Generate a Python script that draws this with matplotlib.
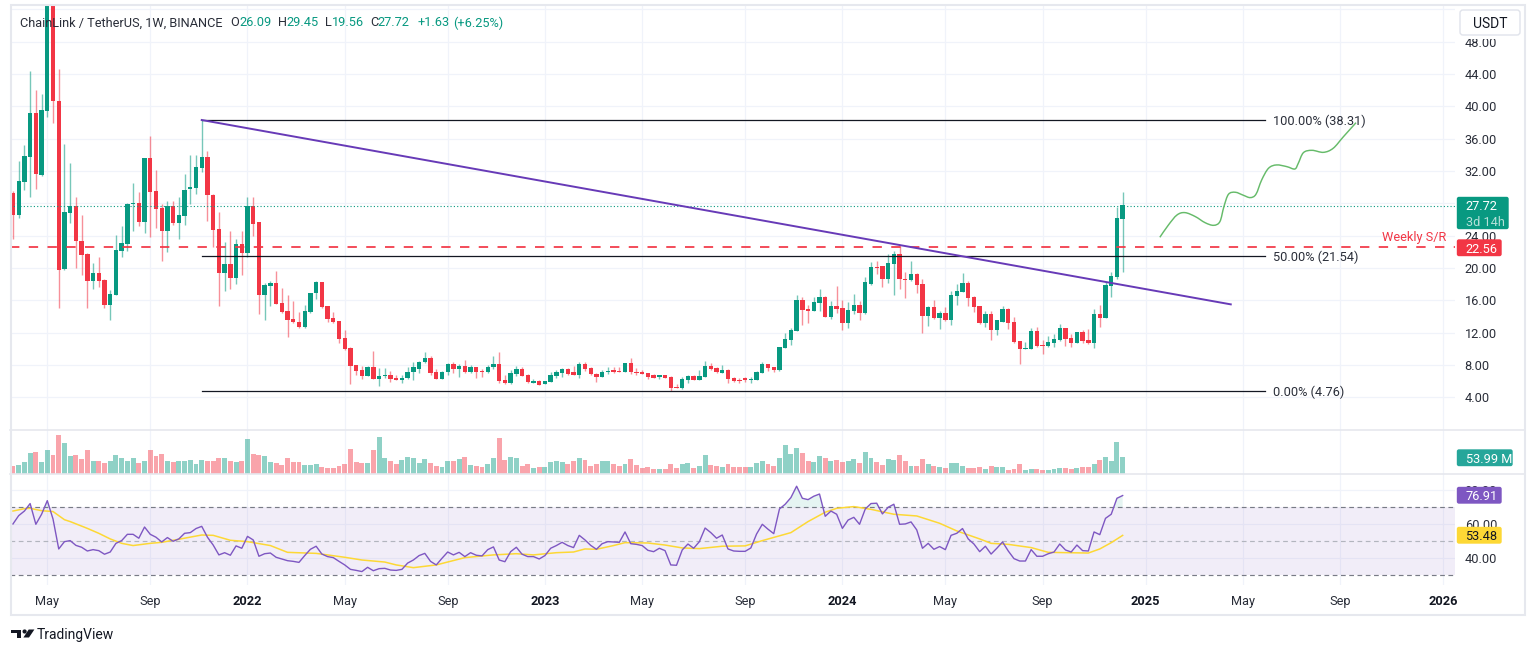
import matplotlib
matplotlib.use('Agg')
import matplotlib.pyplot as plt
from matplotlib.patches import Rectangle, FancyBboxPatch, Polygon, Circle, PathPatch
from matplotlib.path import Path
import numpy as np

plt.rcParams['font.family'] = ['Roboto', 'DejaVu Sans']

W, H = 1536, 652

# weekly candles, LINK/USDT
opens = [
    29.32, 26.56, 30.69, 33.78, 39.14, 31.51, 39.43, 53.5, 40.66, 19.84,
    26.77, 27.59, 23.38, 21.74, 18.44, 19.34, 18.52, 15.43, 16.71, 22.07,
    22.97, 27.92, 28.01, 25.74, 33.57, 29.45, 27.42, 24.58, 27.59, 25.53,
    26.48, 29.74, 29.94, 32.34, 33.74, 29.04, 24.79, 19.43, 20.50, 18.81,
    22.93, 21.82, 27.59, 25.61, 16.66, 17.82, 18.07, 15.63, 14.68, 13.65,
    13.32, 12.66, 14.52, 16.87, 18.19, 15.22, 13.78, 13.36, 11.34, 10.14,
    8.00, 7.38, 6.68, 7.67, 6.30, 6.63, 6.76, 6.35, 6.22, 6.35,
    7.09, 7.58, 8.37, 8.82, 7.13, 6.26, 7.09, 8.12, 7.50, 7.87,
    7.09, 7.71, 7.21, 7.09, 7.71, 8.12, 6.10, 5.73, 6.88, 7.54,
    6.76, 5.85, 6.02, 5.64, 5.93, 6.63, 7.01, 7.50, 7.05, 6.80,
    8.12, 7.58, 6.92, 6.55, 7.09, 7.30, 7.25, 7.17, 8.20, 7.17,
    7.09, 6.96, 6.68, 6.51, 6.68, 6.51, 5.27, 5.11, 6.14, 6.63,
    6.14, 6.55, 7.87, 7.58, 7.05, 7.38, 6.35, 6.14, 6.35, 6.10,
    6.10, 7.05, 8.12, 7.71, 7.38, 10.15, 11.10, 12.25, 16.04, 14.89,
    14.72, 15.71, 16.42, 13.98, 15.30, 15.01, 13.16, 14.72, 15.42, 14.39,
    18.02, 20.13, 20.17, 18.72, 20.50, 21.73, 18.64, 18.52, 19.26, 17.98,
    14.11, 15.14, 13.78, 14.39, 13.57, 16.54, 17.07, 18.15, 16.42, 15.22,
    13.16, 14.31, 12.33, 13.36, 14.93, 13.32, 10.93, 9.98, 9.98, 12.21,
    10.48, 10.35, 10.77, 11.05, 12.50, 11.34, 10.72, 12.00, 11.05, 10.72,
    14.27, 13.78, 17.82, 18.89, 26.09,
]
highs = [
    29.57, 33.24, 35.18, 44.38, 42.03, 41.53, 56.0, 53.9, 44.62, 35.34,
    32.95, 28.75, 26.56, 21.82, 20.58, 21.32, 18.68, 17.28, 24.05, 25.20,
    28.00, 30.56, 29.41, 33.65, 36.38, 32.13, 27.92, 28.25, 28.25, 28.75,
    31.63, 33.94, 33.94, 38.31, 34.48, 29.10, 26.93, 23.18, 24.58, 23.59,
    24.58, 28.75, 28.75, 25.74, 18.11, 18.40, 19.59, 17.49, 16.66, 15.96,
    14.60, 15.43, 16.95, 18.40, 18.25, 15.30, 14.60, 13.49, 12.33, 10.20,
    8.02, 7.87, 7.87, 9.69, 7.58, 7.58, 7.25, 6.76, 6.76, 7.71,
    8.33, 8.53, 9.60, 9.11, 7.46, 7.25, 8.20, 8.37, 8.12, 8.61,
    7.95, 7.79, 7.46, 7.95, 9.07, 9.56, 6.76, 7.38, 7.87, 7.75,
    6.84, 6.22, 6.10, 6.02, 7.13, 7.38, 7.62, 7.58, 7.87, 8.37,
    8.41, 7.79, 7.05, 7.34, 7.79, 7.79, 7.71, 8.24, 8.86, 7.58,
    7.38, 7.05, 6.88, 6.80, 6.76, 6.63, 5.64, 6.47, 6.72, 6.76,
    7.38, 8.53, 8.20, 7.79, 7.95, 7.46, 6.55, 6.35, 6.55, 6.47,
    7.25, 8.33, 8.14, 7.80, 10.20, 11.92, 12.62, 16.66, 16.37, 15.44,
    16.46, 17.36, 16.50, 15.96, 17.78, 16.04, 15.80, 16.74, 15.96, 18.85,
    20.74, 20.87, 20.25, 21.73, 22.06, 22.77, 19.55, 20.83, 19.34, 18.68,
    15.26, 16.04, 14.72, 15.22, 17.20, 18.02, 19.34, 18.35, 16.50, 15.30,
    14.68, 14.72, 13.57, 15.26, 15.00, 13.98, 11.00, 10.81, 12.62, 12.70,
    11.10, 11.59, 11.80, 13.07, 12.55, 11.80, 12.13, 12.33, 12.50, 14.93,
    15.42, 18.31, 19.47, 27.51, 29.45,
]
lows = [
    23.59, 26.23, 29.65, 28.83, 29.78, 31.38, 38.73, 37.98, 15.01, 19.76,
    25.61, 20.04, 19.14, 15.01, 17.37, 17.70, 15.01, 13.57, 16.71, 21.41,
    22.15, 24.62, 25.24, 24.38, 23.88, 25.00, 20.91, 22.03, 25.32, 23.59,
    25.32, 27.92, 29.16, 31.92, 25.82, 22.64, 15.34, 17.20, 17.37, 18.02,
    19.14, 21.32, 23.96, 14.31, 13.57, 15.30, 15.50, 14.48, 11.51, 13.20,
    12.58, 12.62, 14.48, 16.21, 15.10, 13.36, 13.16, 10.77, 9.90, 5.65,
    6.76, 6.22, 6.66, 6.22, 5.40, 6.35, 5.93, 6.14, 5.81, 6.30,
    6.14, 7.05, 8.28, 6.76, 6.22, 6.22, 6.76, 7.05, 6.55, 7.05,
    7.05, 6.35, 6.55, 6.96, 7.46, 5.81, 5.70, 5.64, 6.63, 6.66,
    5.81, 5.73, 5.52, 5.60, 5.89, 6.35, 6.55, 6.76, 6.76, 6.43,
    7.30, 6.76, 5.89, 6.47, 6.88, 6.96, 7.09, 7.13, 6.88, 6.76,
    6.88, 6.22, 6.43, 6.30, 6.39, 4.82, 5.11, 5.07, 5.81, 6.10,
    6.10, 6.55, 7.38, 7.05, 6.96, 5.73, 5.93, 5.81, 5.93, 5.81,
    6.10, 7.01, 7.30, 7.17, 7.30, 10.15, 10.52, 12.25, 12.95, 13.24,
    14.72, 14.72, 13.90, 13.73, 14.48, 12.33, 12.62, 14.31, 13.57, 14.31,
    17.86, 19.22, 17.61, 18.11, 16.62, 17.45, 16.33, 18.44, 16.95, 11.92,
    12.83, 13.70, 12.46, 13.50, 12.95, 15.47, 16.99, 15.30, 14.56, 13.03,
    12.70, 11.14, 11.75, 13.30, 12.50, 10.68, 8.13, 9.95, 9.95, 10.27,
    9.36, 10.27, 10.27, 11.00, 10.39, 10.27, 10.68, 10.77, 10.60, 10.10,
    12.74, 13.78, 16.37, 18.64, 19.56,
]
closes = [
    26.56, 30.77, 33.86, 39.14, 31.59, 39.55, 53.5, 40.66, 19.76, 26.85,
    27.59, 23.34, 21.61, 18.44, 19.34, 18.40, 15.43, 16.75, 22.15, 23.10,
    27.92, 28.01, 25.74, 33.57, 29.45, 27.34, 24.58, 27.59, 25.53, 26.56,
    29.65, 29.98, 32.42, 33.74, 29.04, 24.71, 19.43, 20.46, 18.81, 22.93,
    21.90, 27.59, 25.45, 16.66, 17.82, 18.15, 15.55, 14.52, 13.57, 13.28,
    12.66, 14.60, 16.91, 18.19, 15.22, 13.69, 13.28, 11.26, 9.98, 7.91,
    7.30, 6.63, 7.75, 6.26, 6.63, 6.76, 6.26, 6.22, 6.43, 7.13,
    7.67, 8.41, 8.86, 7.05, 6.26, 7.17, 8.12, 7.50, 7.87, 7.09,
    7.71, 7.17, 7.09, 7.79, 8.12, 6.02, 5.73, 6.96, 7.46, 6.68,
    5.89, 5.97, 5.60, 5.97, 6.76, 7.05, 7.50, 6.96, 6.80, 8.12,
    7.50, 6.88, 6.55, 7.17, 7.25, 7.17, 7.17, 8.20, 7.09, 7.05,
    6.96, 6.55, 6.47, 6.68, 6.47, 5.23, 5.19, 6.22, 6.63, 6.14,
    6.63, 7.87, 7.50, 7.09, 7.38, 6.26, 6.02, 6.02, 6.22, 6.26,
    7.09, 8.12, 7.63, 7.34, 10.18, 11.18, 12.33, 16.04, 14.81, 14.68,
    15.80, 16.42, 13.98, 15.30, 14.97, 13.16, 14.81, 15.42, 14.39, 18.19,
    20.13, 20.04, 18.72, 20.58, 21.73, 18.64, 18.52, 19.26, 17.90, 14.11,
    15.14, 13.78, 14.39, 13.57, 16.58, 17.16, 18.15, 16.33, 15.14, 13.16,
    14.31, 12.33, 13.49, 14.93, 13.24, 10.89, 9.98, 10.06, 12.21, 10.35,
    10.35, 10.85, 11.14, 12.50, 11.26, 10.72, 12.00, 10.93, 10.72, 14.27,
    13.78, 17.90, 19.01, 26.15, 27.72,
]
# millions
volumes = [
    27.5, 29.7, 38.1, 67.8, 71.0, 38.1, 76.2, 61.4, 125.0, 99.5,
    57.2, 62.5, 48.7, 76.2, 43.4, 41.3, 36.0, 43.4, 62.5, 51.9,
    43.4, 51.9, 36.0, 43.4, 76.2, 57.2, 64.6, 41.3, 38.1, 43.4,
    43.4, 45.5, 32.8, 45.5, 41.3, 41.3, 51.9, 51.9, 41.3, 38.1,
    43.4, 111.2, 64.6, 62.5, 57.2, 38.1, 36.0, 29.7, 51.9, 38.1,
    38.1, 29.7, 29.7, 32.8, 22.2, 19.1, 19.1, 27.5, 32.8, 81.5,
    38.1, 36.0, 36.0, 76.2, 118.6, 51.9, 43.4, 32.8, 45.5, 54.0,
    51.9, 36.0, 48.7, 36.0, 27.5, 24.4, 41.3, 43.4, 48.7, 54.0,
    29.7, 27.5, 22.2, 32.8, 51.9, 116.5, 45.5, 54.0, 51.9, 27.5,
    32.8, 19.1, 22.2, 22.2, 40.2, 43.4, 40.2, 32.8, 43.4, 51.9,
    46.6, 27.5, 32.8, 43.4, 43.4, 32.8, 25.4, 32.8, 48.7, 29.7,
    19.1, 24.4, 16.9, 16.9, 16.9, 32.8, 20.1, 32.8, 36.0, 20.1,
    25.4, 62.5, 29.7, 25.4, 22.2, 32.8, 22.2, 24.4, 22.2, 22.2,
    36.0, 41.3, 32.8, 27.5, 51.9, 92.1, 64.6, 83.7, 67.8, 43.4,
    38.1, 57.2, 51.9, 43.4, 46.6, 38.1, 41.3, 48.7, 36.0, 71.0,
    51.9, 38.1, 29.7, 48.7, 46.6, 62.5, 41.3, 25.4, 25.4, 48.7,
    32.8, 25.4, 22.2, 20.1, 36.0, 36.0, 27.5, 20.1, 20.1, 22.2,
    16.9, 25.4, 22.2, 22.2, 14.8, 16.9, 32.8, 14.8, 16.9, 16.9,
    14.8, 14.8, 18.0, 19.1, 19.1, 16.9, 20.1, 22.2, 22.2, 32.8,
    46.6, 54.0, 43.4, 102.7, 53.99,
]
rsi = [
    60.2, 65.1, 67.8, 72.2, 60.0, 65.9, 73.9, 63.1, 45.5, 49.8,
    50.4, 47.6, 46.5, 44.3, 45.1, 44.5, 42.4, 43.7, 48.8, 50.4,
    54.1, 54.1, 51.8, 58.4, 54.1, 52.4, 49.6, 52.2, 50.0, 51.4,
    54.7, 55.1, 57.5, 58.8, 52.4, 47.8, 42.0, 43.3, 41.8, 47.3,
    45.9, 52.9, 50.8, 41.2, 42.7, 43.1, 40.6, 39.6, 38.6, 38.2,
    37.6, 41.6, 45.3, 47.1, 42.5, 41.0, 40.4, 38.2, 36.1, 33.5,
    32.9, 32.2, 34.7, 32.7, 33.9, 34.1, 33.1, 32.9, 33.5, 37.2,
    39.0, 41.6, 42.9, 38.2, 36.1, 40.0, 43.7, 42.0, 43.5, 41.0,
    43.3, 41.8, 41.4, 45.1, 46.7, 39.0, 38.0, 43.9, 46.5, 42.4,
    41.0, 41.0, 39.6, 41.6, 45.9, 47.5, 49.4, 47.5, 46.3, 53.5,
    50.8, 47.6, 45.3, 48.6, 49.8, 49.6, 49.4, 55.5, 48.6, 48.2,
    47.5, 44.7, 43.9, 45.9, 44.5, 36.1, 35.9, 44.9, 48.4, 45.9,
    49.8, 57.8, 55.1, 51.8, 53.7, 45.5, 44.3, 44.1, 44.1, 46.1,
    54.3, 60.0, 57.1, 54.5, 69.0, 71.8, 75.7, 82.4, 75.3, 74.5,
    76.5, 77.8, 64.7, 67.8, 65.9, 57.6, 62.5, 64.1, 60.0, 69.0,
    72.2, 72.4, 66.1, 70.0, 71.8, 60.0, 60.2, 61.4, 56.7, 45.9,
    48.8, 45.3, 46.9, 45.1, 53.5, 54.7, 57.5, 51.4, 48.4, 43.9,
    47.1, 42.5, 45.9, 49.6, 44.3, 39.8, 38.4, 38.4, 45.1, 41.2,
    41.2, 42.7, 43.7, 48.4, 44.9, 43.7, 47.8, 44.5, 44.3, 55.5,
    53.9, 63.5, 65.9, 75.3, 76.91,
]
rsi_ma_weeks = [
    0, 2, 3, 5, 7, 9, 10, 13, 15, 17, 19, 21, 24, 26, 29, 33, 35, 38, 41, 45,
    48, 53, 58, 61, 65, 67, 70, 74, 79, 84, 88, 91, 95, 98, 100, 102, 105, 107,
    111, 114, 117, 120, 124, 128, 131, 136, 139, 142, 144, 147, 150, 154, 158,
    162, 165, 169, 171, 174, 178, 181, 188, 190, 192, 194,
]
rsi_ma = [
    67.8, 69.2, 69.4, 68.0, 67.5, 62.7, 61.6, 57.6, 54.7, 51.4, 48.8, 47.5, 48.8,
    49.4, 51.2, 53.7, 53.5, 50.6, 49.8, 47.5, 43.5, 42.9, 40.6, 39.0, 37.8, 36.1,
    34.5, 36.1, 40.4, 42.0, 42.7, 42.0, 43.3, 43.7, 45.5, 45.3, 47.5, 49.2, 49.0,
    47.8, 46.1, 45.7, 47.1, 47.3, 50.4, 55.1, 61.6, 67.1, 69.4, 70.4, 68.8, 65.9,
    64.9, 60.6, 56.1, 51.4, 48.8, 48.2, 46.3, 43.5, 43.1, 45.5, 49.2, 53.48,
]

fib_levels = [38.31, 21.54, 4.76]
fib_labels = ['100.00% (38.31)', '50.00% (21.54)', '0.00% (4.76)']
trend_weeks = [33, 212.9]
trend_prices = [38.31, 15.5]
wave_weeks = [
    200.5, 202.0, 203.5, 204.9, 206.7, 208.4, 209.9, 211.0, 211.7, 212.5, 213.7, 215.1, 216.3,
    217.3, 218.3, 219.5, 220.9, 222.7, 224.1, 224.7, 225.6, 227.1, 229.1, 230.8, 232.6, 234.8,
]
wave_prices = [
    23.80, 25.32, 26.56, 26.85, 26.36, 25.61, 25.28, 25.74, 27.59, 29.12, 29.37, 29.00, 28.71,
    29.12, 30.89, 32.34, 32.75, 32.54, 32.25, 32.95, 34.27, 34.56, 34.31, 34.81, 36.25, 37.98,
]
sr_level = 22.56
last_close = 27.72

price_ticks = [4, 8, 12, 16, 20, 24, 28, 32, 36, 40, 44, 48, 52]
rsi_ticks = [40, 60, 80]
rsi_levels = [70, 50, 30]
time_ticks = [6, 24, 41, 58, 76, 93, 110, 128, 145, 163, 180, 198, 215, 232, 250]
time_labels = ['May', 'Sep', '2022', 'May', 'Sep', '2023', 'May', 'Sep', '2024', 'May', 'Sep', '2025', 'May', 'Sep', '2026']

GREEN = '#089981'
RED = '#f23645'
PURPLE = '#7e57c2'
YELLOW = '#fdd835'
TEXT = '#2a2e39'
GRID = '#f0f3fa'
FRAME = '#e6e8ee'
FS = 9.2


def px_axes(fig, left, top, right, bottom):
    ax = fig.add_axes([left / W, 1 - bottom / H, (right - left) / W, (bottom - top) / H])
    for s in ax.spines.values():
        s.set_visible(False)
    ax.set_xlim(-0.52, 252.1)
    ax.set_axisbelow(True)
    ax.grid(True, color=GRID, lw=0.9)
    ax.set_xticks(time_ticks)
    ax.tick_params(length=0, labelbottom=False, labelleft=False)
    return ax


def tag(ov, top, bottom, right, color, text, text_color='white'):
    ov.add_patch(FancyBboxPatch((1457.5, top + 1), right - 1458.5, bottom - top - 2,
                                boxstyle='round,pad=0,rounding_size=1.5',
                                fc=color, ec=color, lw=1))
    ov.text(1465.5, (top + bottom) / 2, text, color=text_color, size=FS, va='center_baseline')


def smooth_curve(xs, ys):
    # catmull-rom through the points, as bezier segments
    pts = np.column_stack([xs, ys])
    verts = [pts[0]]
    codes = [Path.MOVETO]
    for i in range(len(pts) - 1):
        p0 = pts[max(i - 1, 0)]
        p1 = pts[i]
        p2 = pts[i + 1]
        p3 = pts[min(i + 2, len(pts) - 1)]
        verts += [p1 + (p2 - p0) / 6, p2 - (p3 - p1) / 6, p2]
        codes += [Path.CURVE4] * 3
    return Path(verts, codes)


fig = plt.figure(figsize=(W / 100, H / 100), dpi=100, facecolor='white')
weeks = np.arange(len(closes))
o, h, l, c = map(np.array, (opens, highs, lows, closes))
up = c >= o
colors = np.where(up, GREEN, RED)

# price pane
ax = px_axes(fig, 10, 5, 1455, 430)
ax.set_ylim(-0.045, 52.54)
ax.set_yticks(price_ticks)
ax.set_yticklabels([f'{t:.2f}' for t in price_ticks])
ax.yaxis.tick_right()
ax.tick_params(axis='y', labelright=True, labelsize=FS, labelcolor=TEXT, pad=7)
ax.vlines(weeks, l, h, colors=colors, lw=1.0, alpha=0.55, zorder=2)
ax.bar(weeks, np.abs(c - o) + 0.04, bottom=np.minimum(o, c) - 0.02, width=0.76, color=colors, zorder=3)
ax.axhline(last_close, color=GREEN, lw=0.8, ls=(0, (1, 2)), zorder=4)
ax.axhline(sr_level, color=RED, lw=1.25, ls=(0, (5.4, 5.4)), zorder=5)
for level, label in zip(fib_levels, fib_labels):
    ax.plot([33, 218.8], [level, level], color='#131722', lw=0.9, zorder=5)
    ax.text(220.3, level, label, color=TEXT, size=FS, va='center_baseline')
ax.plot(trend_weeks, trend_prices, color='#673ab7', lw=1.4, zorder=6)
ax.add_patch(PathPatch(smooth_curve(wave_weeks, wave_prices), fc='none', ec='#66bb6a', lw=1.05, zorder=6))

# volume pane
vol = px_axes(fig, 10, 430, 1455, 474.3)
vol.set_ylim(0, 141)
vol.set_yticks([])
vol.bar(weeks, volumes, width=0.86, color=colors, alpha=0.45, zorder=3)

# rsi pane
ra = px_axes(fig, 10, 474.3, 1455, 585)
ra.set_ylim(24.3, 89.4)
ra.set_yticks(rsi_ticks)
ra.set_yticklabels([f'{t:.2f}' for t in rsi_ticks])
ra.yaxis.tick_right()
ra.tick_params(axis='y', labelright=True, labelsize=FS, labelcolor=TEXT, pad=7)
ra.tick_params(axis='x', labelbottom=True, labelsize=FS, labelcolor=TEXT, pad=7)
ra.set_xticklabels(time_labels)
for t in ra.get_xticklabels():
    if t.get_text().isdigit():
        t.set_fontweight('bold')
        t.set_color('#131722')
ra.axhspan(30, 70, color=PURPLE, alpha=0.1, lw=0, zorder=1)
for level in rsi_levels:
    ra.axhline(level, color='#787b86' if level != 50 else '#b2b5be', lw=0.85, ls=(0, (4, 3)), zorder=2)
rsi_arr = np.array(rsi)
ra.fill_between(weeks, 70, rsi_arr, where=rsi_arr >= 70, color=GREEN, alpha=0.1, lw=0, interpolate=True, zorder=2)
ra.plot(rsi_ma_weeks, rsi_ma, color=YELLOW, lw=1.1, zorder=3)
ra.plot(weeks, rsi_arr, color=PURPLE, lw=1.0, zorder=4)

# frame, tags and header on top, in pixels
ov = fig.add_axes([0, 0, 1, 1], facecolor='none')
ov.set_xlim(0, W)
ov.set_ylim(H, 0)
ov.axis('off')
ov.add_patch(Rectangle((1456, 2), 68, 37, fc='white', ec='none'))
ov.add_patch(Rectangle((10.5, 5), 1514.5, 610, fc='none', ec=FRAME, lw=1.5))
ov.plot([10, 1525], [430, 430], color=FRAME, lw=1.2)
ov.plot([10, 1525], [474.3, 474.3], color=FRAME, lw=1.2)

ov.add_patch(FancyBboxPatch((1460, 10), 60, 25, boxstyle='round,pad=0,rounding_size=3',
                            fc='white', ec='#e0e3eb', lw=1))
ov.text(1490, 22.5, 'USDT', color='#131722', size=10, ha='center', va='center_baseline')

# last price tag has two rows
ov.add_patch(FancyBboxPatch((1457.5, 197.5), 50.5, 31, boxstyle='round,pad=0,rounding_size=1.5',
                            fc=GREEN, ec=GREEN, lw=1))
ov.text(1465.5, 205.5, '27.72', color='white', size=FS, va='center_baseline')
ov.text(1465.5, 220.5, '3d 14h', color='#b5e0d8', size=FS, va='center_baseline')
tag(ov, 239, 256.5, 1502, RED, '22.56')
tag(ov, 449, 466.5, 1513, '#26a69a', '53.99 M')
tag(ov, 486.5, 504, 1502, PURPLE, '76.91')
tag(ov, 526.5, 544, 1502, YELLOW, '53.48', '#131722')

ov.text(1382, 236, 'Weekly S/R', color=RED, size=FS, va='center_baseline')

ov.text(19.5, 21.5, 'ChainLink / TetherUS, 1W, BINANCE', color=TEXT, size=FS, va='center_baseline')
for x, s, col in [(230, 'O', TEXT), (239, '26.09', GREEN), (277.7, 'H', TEXT), (286, '29.45', GREEN),
                  (325, 'L', TEXT), (331.7, '19.56', GREEN), (370, 'C', TEXT), (377.7, '27.72', GREEN),
                  (417.3, '+1.63', GREEN), (452.7, '(+6.25%)', GREEN)]:
    ov.text(x, 21.5, s, color=col, size=FS, va='center_baseline')

# logo
ov.add_patch(Polygon([(11, 629.5), (21.3, 629.5), (21.3, 637.5), (16.7, 637.5), (16.7, 633.3), (11, 633.3)],
                     fc='#131722', ec='none'))
ov.add_patch(Circle((24.6, 631.5), 2.1, fc='#131722', ec='none'))
ov.add_patch(Polygon([(28.7, 629.5), (34.4, 629.5), (29, 637.5), (23.4, 637.5)], fc='#131722', ec='none'))
ov.text(36.5, 633.3, 'TradingView', color='#131722', size=10, va='center_baseline')

fig.savefig('out.png', dpi=100)
